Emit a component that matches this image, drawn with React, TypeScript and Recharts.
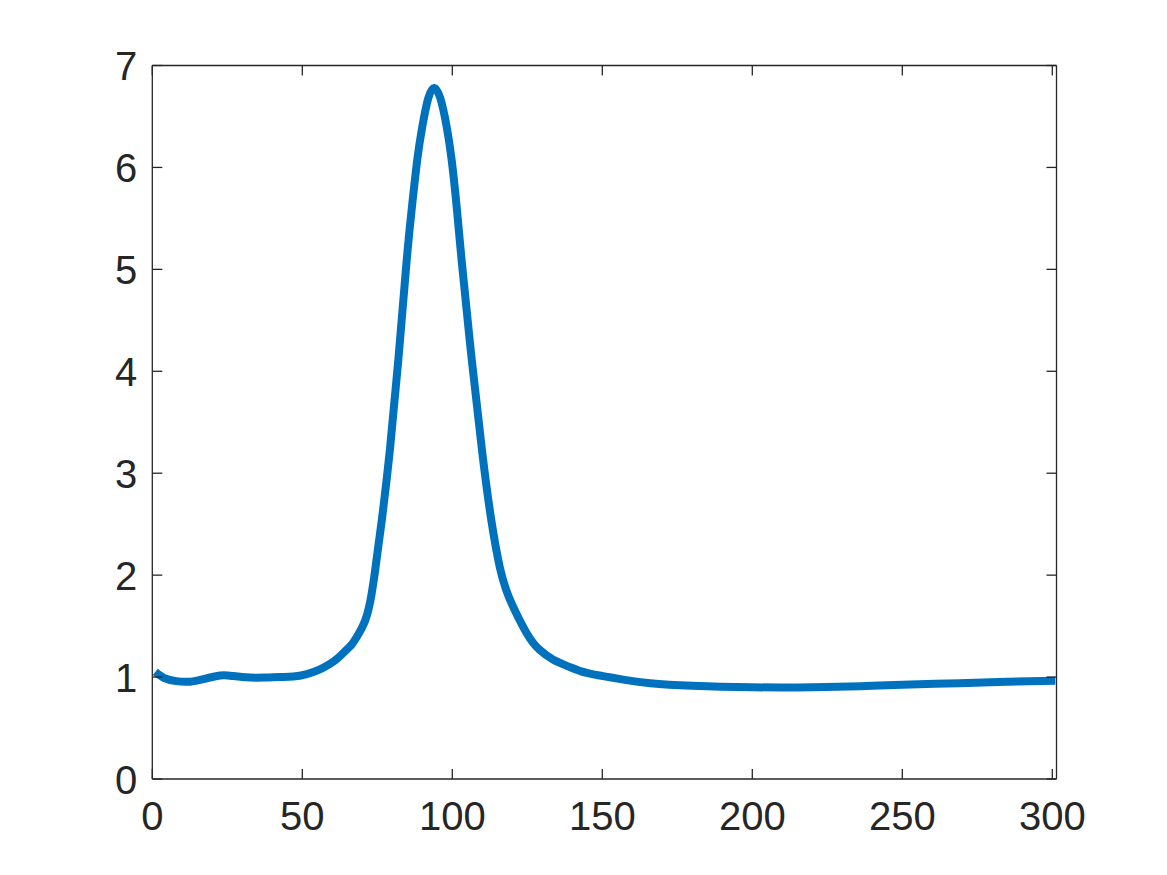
import React from "react";
import { LineChart, Line, XAxis, YAxis } from "recharts";

const xValues = [1, 4, 8, 12.6, 17, 22.6, 27, 32.6, 37.5, 42.6, 47, 51.5, 55.5, 59.2, 62, 64.8, 66.5, 68.5, 70.9, 72.7, 74.2, 76.5, 79.2, 82, 84.8, 86.5, 88.3, 90, 92, 94, 96, 98, 99.8, 101.5, 103.1, 106.5, 110, 113, 115.9, 117.8, 119.8, 124.8, 129, 133.7, 139, 144.8, 152, 158, 166, 180, 200, 220, 236, 250, 269, 285, 301];
const yValues = [1.05, 0.99, 0.96, 0.955, 0.98, 1.015, 1.01, 0.995, 0.995, 1.0, 1.005, 1.03, 1.07, 1.13, 1.19, 1.27, 1.32, 1.41, 1.55, 1.75, 2.03, 2.54, 3.23, 4.11, 5.09, 5.6, 6.07, 6.4, 6.68, 6.78, 6.68, 6.42, 6.07, 5.6, 5.09, 4.11, 3.2, 2.54, 2.07, 1.87, 1.72, 1.43, 1.27, 1.17, 1.1, 1.04, 1.0, 0.97, 0.94, 0.915, 0.9, 0.9, 0.91, 0.925, 0.94, 0.955, 0.965];

const xTicks = [0, 50, 100, 150, 200, 250, 300];
const yTicks = [0, 1, 2, 3, 4, 5, 6, 7];

const data = xValues.map((x, i) => ({ x, y: yValues[i] }));

const AXIS_COLOR = "#262626";
const FONT = "'Liberation Sans', Arial, Helvetica, sans-serif";
const FONT_SIZE = 40;
const TICK_LEN = 10;

const BottomTick = (props: any) => {
  const { x, y, payload } = props;
  return (
    <g>
      <line x1={x} x2={x} y1={y} y2={y - TICK_LEN} stroke={AXIS_COLOR} strokeWidth={1.3} />
      <text x={x} y={y + 51} textAnchor="middle" fill={AXIS_COLOR} fontSize={FONT_SIZE} fontFamily={FONT}>
        {payload.value}
      </text>
    </g>
  );
};

const TopTick = (props: any) => {
  const { x, y } = props;
  return <line x1={x} x2={x} y1={y} y2={y + TICK_LEN} stroke={AXIS_COLOR} strokeWidth={1.3} />;
};

const LeftTick = (props: any) => {
  const { x, y, payload } = props;
  return (
    <g>
      <line x1={x} x2={x + TICK_LEN} y1={y} y2={y} stroke={AXIS_COLOR} strokeWidth={1.3} />
      <text x={x - 15} y={y + 14.5} textAnchor="end" fill={AXIS_COLOR} fontSize={FONT_SIZE} fontFamily={FONT}>
        {payload.value}
      </text>
    </g>
  );
};

const RightTick = (props: any) => {
  const { x, y } = props;
  return <line x1={x} x2={x - TICK_LEN} y1={y} y2={y} stroke={AXIS_COLOR} strokeWidth={1.3} />;
};

export default function App() {
  return (
    <div style={{ width: 1159, height: 867, background: "#fff" }}>
      <LineChart
        width={1159}
        height={867}
        data={data}
        margin={{ top: 56.5, right: 109.5, bottom: 0, left: 0 }}
      >
        <XAxis
          xAxisId="bottom"
          dataKey="x"
          type="number"
          domain={[0, 301.4]}
          ticks={xTicks}
          allowDataOverflow
          orientation="bottom"
          height={96}
          tickSize={0}
          tickMargin={0}
          tickLine={false}
          axisLine={{ stroke: AXIS_COLOR, strokeWidth: 1.3 }}
          tick={<BottomTick />}
          interval={0}
        />
        <XAxis
          xAxisId="top"
          dataKey="x"
          type="number"
          domain={[0, 301.4]}
          ticks={xTicks}
          allowDataOverflow
          orientation="top"
          height={1}
          tickSize={0}
          tickMargin={0}
          tickLine={false}
          axisLine={{ stroke: AXIS_COLOR, strokeWidth: 1.3 }}
          tick={<TopTick />}
          interval={0}
        />
        <YAxis
          yAxisId="left"
          type="number"
          domain={[0, 7]}
          ticks={yTicks}
          allowDataOverflow
          orientation="left"
          width={144.3}
          tickSize={0}
          tickMargin={0}
          tickLine={false}
          axisLine={{ stroke: AXIS_COLOR, strokeWidth: 1.3 }}
          tick={<LeftTick />}
          interval={0}
        />
        <YAxis
          yAxisId="right"
          type="number"
          domain={[0, 7]}
          ticks={yTicks}
          allowDataOverflow
          orientation="right"
          width={1}
          tickSize={0}
          tickMargin={0}
          tickLine={false}
          axisLine={{ stroke: AXIS_COLOR, strokeWidth: 1.3 }}
          tick={<RightTick />}
          interval={0}
        />
        <Line
          xAxisId="bottom"
          yAxisId="left"
          dataKey="y"
          type="natural"
          stroke="#0072BD"
          strokeWidth={8}
          dot={false}
          isAnimationActive={false}
        />
        <Line
          xAxisId="top"
          yAxisId="right"
          dataKey="y"
          type="natural"
          stroke="none"
          strokeWidth={0}
          dot={false}
          activeDot={false}
          legendType="none"
          isAnimationActive={false}
        />
      </LineChart>
    </div>
  );
}
